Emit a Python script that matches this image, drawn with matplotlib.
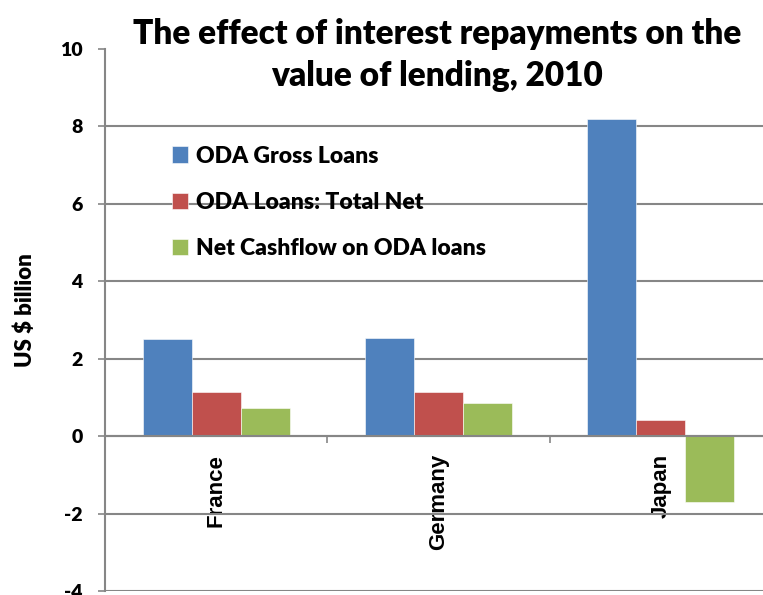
import matplotlib.pyplot as plt
import numpy as np

countries = ['France', 'Germany', 'Japan']
gross_loans = [2.50, 2.53, 8.19]
total_net = [1.14, 1.15, 0.41]
net_cashflow = [0.72, 0.85, -1.71]
series_names = ['ODA Gross Loans', 'ODA Loans: Total Net', 'Net Cashflow on ODA loans']
colors = ['#4F81BD', '#C0504D', '#9BBB59']
yticks = [-4, -2, 0, 2, 4, 6, 8, 10]

grid_col = '#868686'
font = 'Lato'
wt = 'heavy'

fig = plt.figure(figsize=(7.63, 5.95), dpi=100)
ax = fig.add_axes([105 / 763, 1 - 591 / 595, (772 - 105) / 763, (591 - 49) / 595])

x = np.arange(len(countries))
w = 0.22
for i, vals in enumerate([gross_loans, total_net, net_cashflow]):
    ax.bar(x + (i - 1) * w, vals, w, color=colors[i], label=series_names[i],
           edgecolor='white', linewidth=0.4, zorder=3)

ax.set_xlim(-0.5, 2.5)
ax.set_ylim(-4, 10)
ax.set_yticks(yticks)
ax.set_yticklabels([str(t) for t in yticks], fontfamily=font, fontweight=wt, fontsize=14)
ax.yaxis.grid(True, color=grid_col, linewidth=1.5, zorder=0)
ax.get_ygridlines()[-1].set_visible(False)

for s in ['top', 'right']:
    ax.spines[s].set_visible(False)
ax.spines['left'].set_color(grid_col)
ax.spines['left'].set_linewidth(1.5)
ax.spines['bottom'].set_position(('data', 0))
ax.spines['bottom'].set_color(grid_col)
ax.spines['bottom'].set_linewidth(1.5)
ax.spines['bottom'].set_zorder(4)

ax.tick_params(axis='y', direction='out', length=5, width=1.2, color=grid_col, pad=11)
ax.set_xticks(x)
ax.set_xticklabels(countries, rotation=90, fontweight='bold', fontsize=16,
                   fontfamily='Liberation Sans', va='top')
ax.set_xticks([0.5, 1.5], minor=True)
ax.tick_params(axis='x', which='major', length=0, pad=13)
ax.tick_params(axis='x', which='minor', direction='out', length=5, width=1.2, color=grid_col)

ax.set_ylabel('US $ billion', fontfamily=font, fontweight=wt, fontsize=16)
ax.yaxis.set_label_coords(-0.103, 0.518)

leg = ax.legend(loc='upper left', bbox_to_anchor=(0.07, 0.86), frameon=False,
                handlelength=0.7, handleheight=0.7, handletextpad=0.35,
                labelspacing=1.1, prop={'family': font, 'weight': wt, 'size': 16.5})

fig.text(437 / 763, 1 - 55 / 595, 'The effect of interest repayments on the\nvalue of lending, 2010',
         ha='center', va='center', fontfamily=font, fontweight=wt, fontsize=24,
         linespacing=1.4,
         bbox=dict(facecolor='white', edgecolor='none', pad=2))

fig.savefig('out.png', dpi=100)
